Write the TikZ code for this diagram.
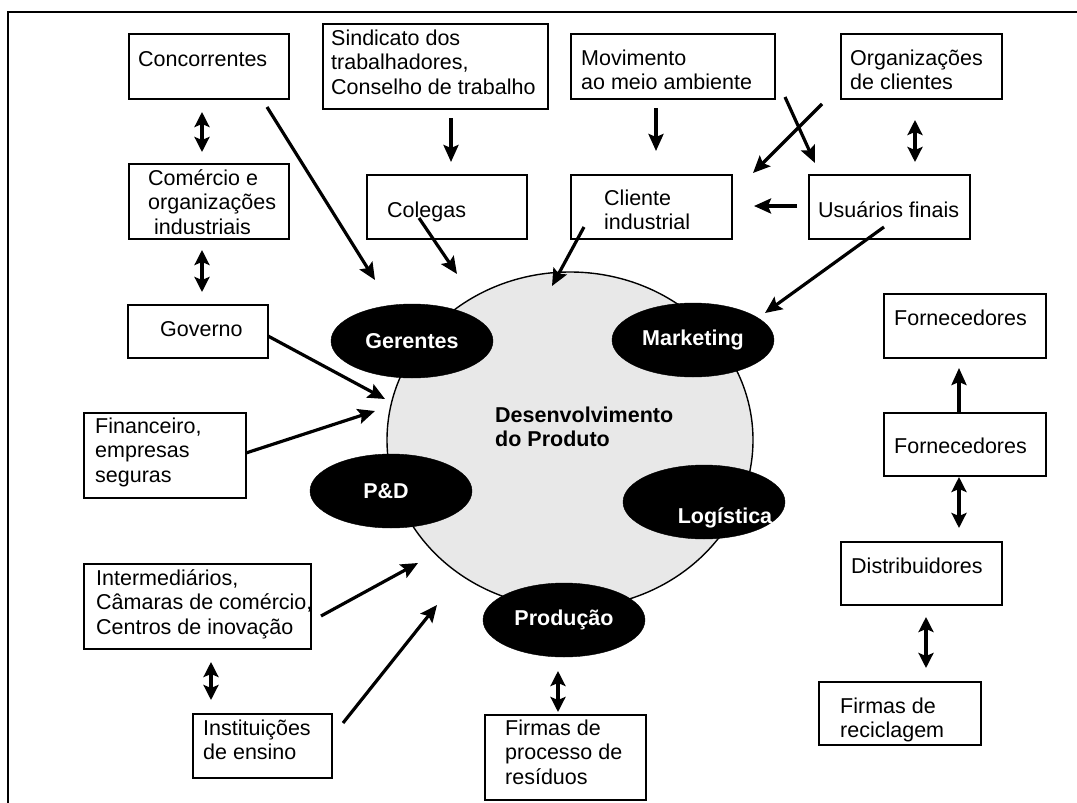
\documentclass[tikz,border=0pt]{standalone}
\usepackage{fontspec}
\setmainfont{Liberation Sans}
\usetikzlibrary{arrows.meta,shapes.geometric}

\begin{document}
\begin{tikzpicture}[x=1pt,y=-1pt,
  box/.style={draw=black, line width=1.8pt, rectangle, anchor=north west, inner sep=0pt},
  lbl/.style={anchor=north west, inner sep=0pt, align=left,
    font=\fontsize{21.5}{24.5}\selectfont},
  blob/.style={ellipse, fill=black, draw=black, minimum width=162pt, minimum height=74pt,
    inner sep=0pt, text=white, font=\fontsize{21.5}{24.5}\selectfont\bfseries},
  arr/.style={line width=3.2pt, -{Stealth[length=17pt,width=15pt,inset=3pt]}},
  darr/.style={line width=3.2pt, {Stealth[length=15pt,width=15pt,inset=3pt]}-{Stealth[length=15pt,width=15pt,inset=3pt]}},
]
\newcommand{\ts}{\rule{0pt}{18pt}}
\useasboundingbox (0,0) rectangle (1077,803);

% outer frame
\draw[line width=1.8pt] (8,810) -- (8,12) -- (1085,12);

% central circle
\draw[fill=black!9, line width=1.4pt] (570,440) ellipse [x radius=183, y radius=168];
\node[lbl, font=\fontsize{21.5}{24.5}\selectfont\bfseries] (core) at (495,404)
  {\ts Desenvolvimento\\do Produto};

% functional areas
\node[blob] (ger)  at (412,341) {Gerentes};
\node[blob] (mkt)  at (693,340) {Marketing};
\node[blob] (pd)   at (391,491) {\hspace*{-10pt}P\&D};
\node[blob] (log)  at (704,502) {};
\node[anchor=base, inner sep=0pt, text=white, font=\fontsize{21.5}{24.5}\selectfont\bfseries]
  (logt) at (725,523) {Logística};
\node[blob] (prod) at (564,620) {Produção};

% boxes
\node[box, minimum width=160pt, minimum height=65pt] (conc) at (128,33) {};
\node[lbl] (conct) at (138,48) {\ts Concorrentes};

\node[box, minimum width=225pt, minimum height=85pt] (sind) at (322,23) {};
\node[lbl] (sindt) at (331,27) {\ts Sindicato dos\\trabalhadores,\\Conselho de trabalho};

\node[box, minimum width=204pt, minimum height=65pt] (movi) at (570,33) {};
\node[lbl] (movit) at (581,47) {\ts Movimento\\ao meio ambiente};

\node[box, minimum width=161pt, minimum height=65pt] (orgc) at (840,33) {};
\node[lbl] (orgct) at (850,47) {\ts Organizações\\de clientes};

\node[box, minimum width=160pt, minimum height=75pt] (come) at (128,163) {};
\node[lbl] (comet) at (148,167) {\ts Comércio e\\organizações\\\hspace*{6pt}industriais};

\node[box, minimum width=160pt, minimum height=64pt] (cole) at (366,174) {};
\node[lbl] (colet) at (387,199) {\ts Colegas};

\node[box, minimum width=161pt, minimum height=64pt] (clie) at (570,174) {};
\node[lbl] (cliet) at (604,187) {\ts Cliente\\industrial};

\node[box, minimum width=161pt, minimum height=64pt] (usua) at (808,174) {};
\node[lbl] (usuat) at (818,199) {\ts Usuários finais};

\node[box, minimum width=140pt, minimum height=53pt] (gove) at (127,304) {};
\node[lbl] (govet) at (160,318) {\ts Governo};

\node[box, minimum width=162pt, minimum height=85pt] (fina) at (83,412) {};
\node[lbl] (finat) at (95,415) {\ts Financeiro,\\empresas\\seguras};

\node[box, minimum width=227pt, minimum height=85pt] (inte) at (83,563) {};
\node[lbl] (intet) at (96,567) {\ts Intermediários,\\Câmaras de comércio,\\Centros de inovação};

\node[box, minimum width=139pt, minimum height=64pt] (inst) at (192,713) {};
\node[lbl] (instt) at (203,717) {\ts Instituições\\de ensino};

\node[box, minimum width=161pt, minimum height=85pt] (fpro) at (484,714) {};
\node[lbl] (fprot) at (505,717) {\ts Firmas de\\processo de\\resíduos};

\node[box, minimum width=162pt, minimum height=64pt] (forn1) at (883,293) {};
\node[lbl] (forn1t) at (894,307) {\ts Fornecedores};

\node[box, minimum width=162pt, minimum height=63pt] (forn2) at (883,412) {};
\node[lbl] (forn2t) at (894,435) {\ts Fornecedores};

\node[box, minimum width=161pt, minimum height=63pt] (dist) at (840,541) {};
\node[lbl] (distt) at (851,555) {\ts Distribuidores};

\node[box, minimum width=162pt, minimum height=63pt] (frec) at (818,681) {};
\node[lbl] (frect) at (840,695) {\ts Firmas de\\reciclagem};

% connector end points
\coordinate (concA) at (267,107);  \coordinate (gerA) at (375,280);
\coordinate (sindA) at (451,118);  \coordinate (coleA) at (451,162);
\coordinate (moviA) at (656,108);  \coordinate (clieA) at (656,151);
\coordinate (orgcA) at (822,104);  \coordinate (clieB) at (753,173);
\coordinate (moviB) at (785,97);   \coordinate (usuaA) at (815,163);
\coordinate (orgcB) at (915,120);  \coordinate (usuaB) at (915,162);
\coordinate (usuaC) at (797,206);  \coordinate (clieC) at (754,206);
\coordinate (usuaD) at (884,227);  \coordinate (mktA) at (765,313);
\coordinate (coleB) at (419,218);  \coordinate (coreA) at (457,274);
\coordinate (clieD) at (584,227);  \coordinate (coreB) at (552,286);
\coordinate (concB) at (202,112);  \coordinate (comeA) at (202,152);
\coordinate (comeB) at (202,250);  \coordinate (goveA) at (202,292);
\coordinate (goveB) at (268,336);  \coordinate (coreC) at (385,399);
\coordinate (finaA) at (246,453);  \coordinate (coreD) at (375,411);
\coordinate (inteA) at (321,616);  \coordinate (coreE) at (418,563);
\coordinate (instA) at (343,723);  \coordinate (coreF) at (437,605);
\coordinate (inteB) at (211,662);  \coordinate (instB) at (211,700);
\coordinate (prodA) at (558,671);  \coordinate (fproA) at (558,712);
\coordinate (forn1A) at (959,368);
\coordinate (forn2A) at (959,477); \coordinate (distA) at (959,528);
\coordinate (distB) at (926,617);  \coordinate (frecA) at (926,668);

% connectors
\draw[arr] (concA) -- (gerA);
\draw[arr] (sindA) -- (coleA);
\draw[arr] (moviA) -- (clieA);
\draw[arr] (orgcA) -- (clieB);
\draw[arr] (moviB) -- (usuaA);
\draw[darr] (orgcB) -- (usuaB);
\draw[arr] (usuaC) -- (clieC);
\draw[arr] (usuaD) -- (mktA);
\draw[arr] (coleB) -- (coreA);
\draw[arr] (clieD) -- (coreB);
\draw[darr] (concB) -- (comeA);
\draw[darr] (comeB) -- (goveA);
\draw[arr] (goveB) -- (coreC);
\draw[arr] (finaA) -- (coreD);
\draw[arr] (inteA) -- (coreE);
\draw[arr] (instA) -- (coreF);
\draw[darr] (inteB) -- (instB);
\draw[darr] (prodA) -- (fproA);
\draw[arr] (forn2.north -| forn1A) -- (forn1A);
\draw[darr] (forn2A) -- (distA);
\draw[darr] (distB) -- (frecA);
\end{tikzpicture}
\end{document}
